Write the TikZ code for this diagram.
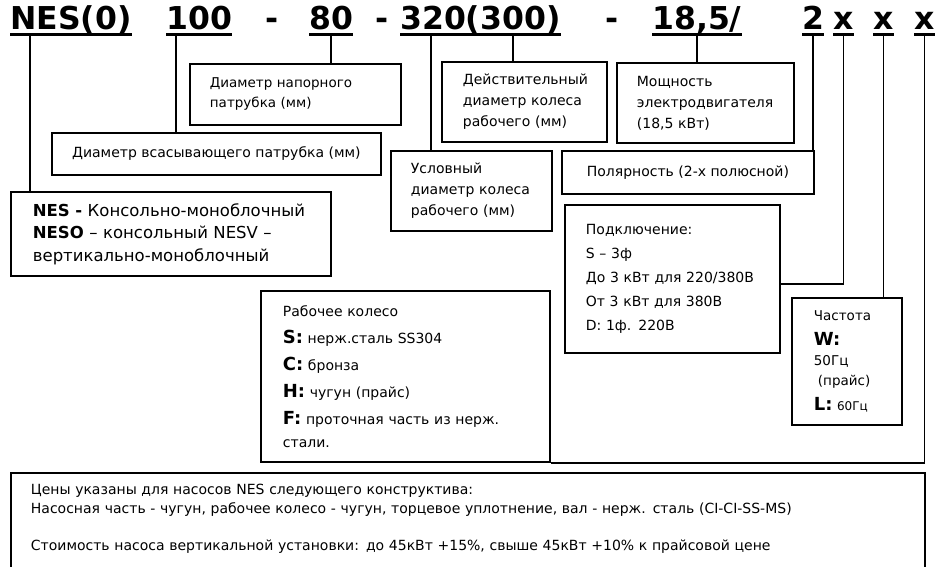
\documentclass[tikz,border=0pt]{standalone}
\usepackage{fontspec}
\setmainfont{DejaVu Sans}
\newcommand{\keyl}[1]{{\fontsize{18}{18}\selectfont\bfseries #1}}

\begin{document}
\begin{tikzpicture}[x=1pt, y=-1pt,
    code/.style={anchor=base west, inner sep=0pt, font=\bfseries\fontsize{31.5}{31.5}\selectfont},
    uline/.style={line width=2.4pt},
    wire/.style={line width=1.7pt},
    infobox/.style={draw, line width=1.8pt, anchor=north west, align=left, inner ysep=0pt, font=\fontsize{14}{21}\selectfont}]
    \useasboundingbox (0,0) rectangle (937,567);
    \clip (0,0) rectangle (937,567);

    % 型式コード
    \node[code] (tnes) at (10,30) {NES(0)};
    \node[code] (t100) at (166,30) {100};
    \node[code, anchor=base] (tdash1) at (272,30) {-};
    \node[code] (t80) at (309,30) {80};
    \node[code, anchor=base] (tdash2) at (382,30) {-};
    \node[code] (t320) at (400,30) {320(300)};
    \node[code, anchor=base] (tdash3) at (612,30) {-};
    \node[code] (t185) at (652,30) {18,5/};
    \node[code] (t2) at (802,30) {2};
    \node[code] (tx1) at (833,30) {x};
    \node[code] (tx2) at (873,30) {x};
    \node[code] (tx3) at (914,30) {x};

    % 下線
    \draw[uline] ([yshift=-4.5pt]tnes.base west) -- ([yshift=-4.5pt]tnes.base east);
    \draw[uline] ([yshift=-4.5pt]t100.base west) -- ([yshift=-4.5pt]t100.base east);
    \draw[uline] ([yshift=-4.5pt]t80.base west) -- ([yshift=-4.5pt]t80.base east);
    \draw[uline] ([yshift=-4.5pt]t320.base west) -- ([yshift=-4.5pt]t320.base east);
    \draw[uline] ([yshift=-4.5pt]t185.base west) -- ([yshift=-4.5pt]t185.base east);
    \draw[uline] ([yshift=-4.5pt]t2.base west) -- ([yshift=-4.5pt]t2.base east);
    \draw[uline] ([yshift=-4.5pt]tx1.base west) -- ([yshift=-4.5pt]tx1.base east);
    \draw[uline] ([yshift=-4.5pt]tx2.base west) -- ([yshift=-4.5pt]tx2.base east);
    \draw[uline] ([yshift=-4.5pt]tx3.base west) -- ([yshift=-4.5pt]tx3.base east);

    % 説明の枠
    \node[infobox, minimum width=211pt, minimum height=61pt, text width=171pt, inner xsep=20pt, font=\fontsize{13.5}{20}\selectfont] (nap) at (189,63) {Диаметр напорного\\патрубка (мм)};
    \node[infobox, minimum width=165pt, minimum height=80pt, text width=123pt, inner xsep=21pt] (deyst) at (441,61) {Действительный\\диаметр колеса\\рабочего (мм)};
    \node[infobox, minimum width=177pt, minimum height=80pt, text width=137pt, inner xsep=20pt] (mosh) at (616,62) {Мощность\\электродвигателя\\(18,5 кВт)};
    \node[infobox, minimum width=329pt, minimum height=42pt] (vsas) at (51,132) {Диаметр всасывающего патрубка (мм)};
    \node[infobox, minimum width=161pt, minimum height=80pt, text width=121pt, inner xsep=20pt] (usl) at (390,150) {Условный\\диаметр колеса\\рабочего (мм)};
    \node[infobox, minimum width=252pt, minimum height=43pt] (pol) at (561,150) {Полярность (2-х полюсной)};
    \node[infobox, minimum width=320pt, minimum height=84pt, text width=276pt, inner xsep=22pt, font=\fontsize{16.5}{22.5}\selectfont] (nes) at (10,191) {\textbf{NES -} Консольно-моноблочный\\\textbf{NESO} – консольный NESV –\\вертикально-моноблочный};
    \node[infobox, minimum width=215pt, minimum height=148pt, text width=173pt, inner xsep=21pt, font=\fontsize{14}{24}\selectfont] (podkl) at (564,204) {Подключение:\\S – 3ф\\До 3 кВт для 220/380В\\От 3 кВт для 380В\\D: 1ф. 220В};
    \node[infobox, minimum width=289pt, minimum height=171pt, text width=245pt, inner xsep=22pt, font=\fontsize{14}{23}\selectfont] (koleso) at (260,290) {Рабочее колесо\\[4pt]\keyl{S:} нерж.сталь SS304\\[4pt]\keyl{C:} бронза\\[4pt]\keyl{H:} чугун (прайс)\\[4pt]\keyl{F:} проточная часть из нерж.\\стали.};
    \node[infobox, minimum width=110pt, minimum height=127pt, text width=66pt, inner xsep=22pt, font=\fontsize{13.5}{20}\selectfont] (chast) at (791,297) {Частота\\[5pt]\keyl{W:}\\50Гц\\\hspace{4pt}(прайс)\\[5pt]\keyl{L:} {\fontsize{12}{12}\selectfont 60Гц}};
    \node[infobox, minimum width=914pt, text width=874pt, inner xsep=20pt, inner ysep=11pt, text depth=80pt, font=\fontsize{14}{19.5}\selectfont] (price) at (10,472) {Цены указаны для насосов NES следующего конструктива:\\Насосная часть - чугун, рабочее колесо - чугун, торцевое уплотнение, вал - нерж. сталь (CI-CI-SS-MS)\\[17pt]Стоимость насоса вертикальной установки: до 45кВт +15\%, свыше 45кВт +10\% к прайсовой цене};

    % 接続線
    \coordinate (cnes) at ([xshift=20pt,yshift=-5pt]tnes.base west);
    \draw[wire] (cnes) -- (cnes |- nes.north);
    \coordinate (c100) at ([xshift=10pt,yshift=-5pt]t100.base west);
    \draw[wire] (c100) -- (c100 |- vsas.north);
    \draw[wire] ([yshift=-5pt]t80.base) -- (t80.base |- nap.north);
    \coordinate (c320) at ([xshift=31pt,yshift=-5pt]t320.base west);
    \draw[wire] (c320) -- (c320 |- usl.north);
    \coordinate (c300) at ([xshift=113pt,yshift=-5pt]t320.base west);
    \draw[wire] (c300) -- (c300 |- deyst.north);
    \draw[wire] ([yshift=-5pt]t185.base) -- (t185.base |- mosh.north);
    \draw[wire] ([yshift=-5pt]t2.base) -- (t2.base |- pol.north);
    \draw[wire] ([yshift=-5pt]tx1.base) |- ([yshift=-5pt]podkl.east);
    \draw[wire] ([yshift=-5pt]tx2.base) -- (tx2.base |- chast.north);
    \draw[wire] ([yshift=-5pt]tx3.base) |- (koleso.south east);
\end{tikzpicture}
\end{document}
